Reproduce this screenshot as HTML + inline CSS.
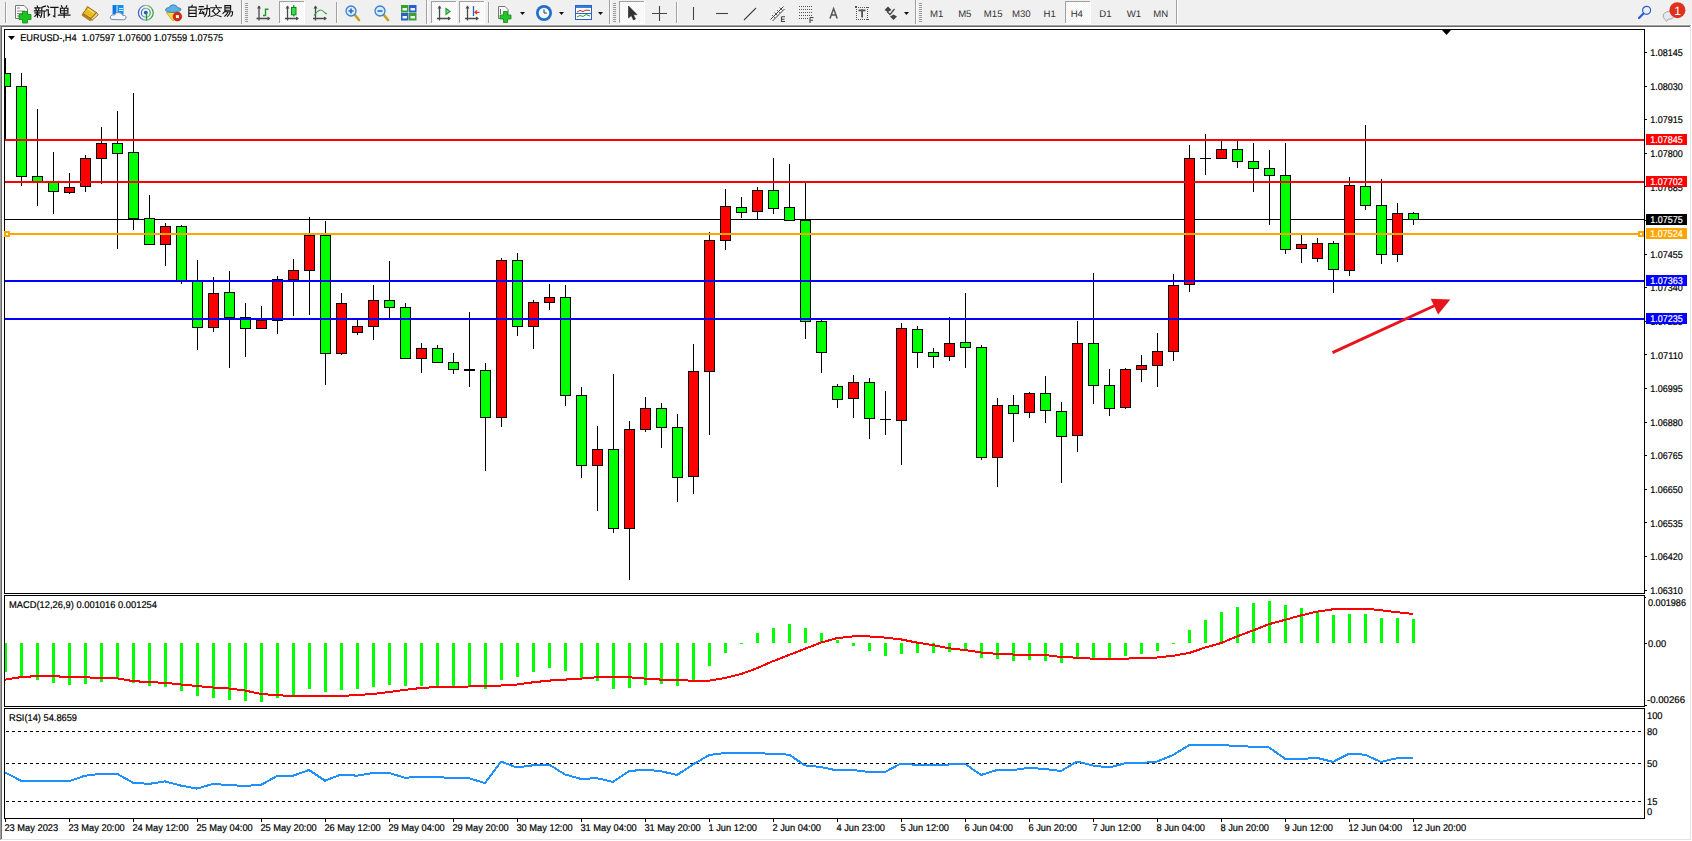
<!DOCTYPE html>
<html><head><meta charset="utf-8"><title>EURUSD H4</title>
<style>
html,body{margin:0;padding:0;background:#f0f0f0;width:1692px;height:841px;overflow:hidden}
svg{display:block;font-family:"Liberation Sans",sans-serif;text-rendering:geometricPrecision}
</style></head><body>
<svg width="1692" height="841" viewBox="0 0 1692 841">
<rect x="0" y="0" width="1692" height="25" fill="#f0f0f0"/>
<rect x="0" y="24" width="1692" height="1" fill="#f7f7f7"/>
<defs><pattern id="dith" width="2" height="2" patternUnits="userSpaceOnUse"><rect width="2" height="2" fill="#f4f4f4"/><rect width="1" height="1" fill="#ffffff"/><rect x="1" y="1" width="1" height="1" fill="#ffffff"/></pattern></defs>
<rect x="5" y="2" width="1" height="21" fill="#a0a0a0"/>
<rect x="6" y="2" width="1" height="21" fill="#fdfdfd"/>
<path d="M15.5 5.5 H24 L27.5 9 V18.5 H15.5 Z" stroke="#777" fill="#fbfbfb" stroke-width="1"/>
<path d="M17 8 H20 M17 11 H25 M17 13.5 H25 M17 16 H22" stroke="#888" fill="none" stroke-width="1"/>
<path d="M22.5 11.5 H27.5 V14.5 H31 V19.5 H27.5 V23 H22.5 V19.5 H19 V14.5 H22.5 Z" stroke="#0c8a12" fill="#19c51e" stroke-width="0.8"/>
<path transform="translate(34.2,5.6) scale(1.0)" d="M3 0.3 L3.4 1.5 M0.6 2.2 H6 M1.7 3.2 L2.2 4.5 M4.7 3.2 L4.2 4.5 M0.2 5.2 H6.4 M0.8 7.3 H5.8 M3.3 5.2 V11.6 M2.9 8.2 L0.6 10.8 M3.8 8.6 L5.4 10 M11.2 0.5 L7.6 1.8 M7.6 1.8 V7.5 Q7.4 10.3 6.4 11.7 M7.6 5.4 H11.8 M10 5.4 V11.8" stroke="#111" stroke-width="1.15" fill="none" stroke-linecap="square"/>
<path transform="translate(46.2,5.6) scale(1.0)" d="M1.2 0.4 L2.5 1.8 M0.3 4.2 H2.1 V10.2 L3.6 8.6 M4.6 1.7 H11.8 M8.6 1.7 V11.2 L7.2 10.4" stroke="#111" stroke-width="1.15" fill="none" stroke-linecap="square"/>
<path transform="translate(58.2,5.6) scale(1.0)" d="M3.2 0.2 L4 1.6 M8.6 0.2 L7.8 1.6 M2.3 2.6 H9.7 V7.6 H2.3 Z M2.3 5.1 H9.7 M6 2.6 V11.8 M0.2 9.5 H11.8" stroke="#111" stroke-width="1.15" fill="none" stroke-linecap="square"/>
<path transform="translate(186.7,5.2) scale(0.96)" d="M5.8 0 L5 1.8 M2.2 2 H9.8 V11.8 M2.2 2 V11.8 H9.8 M2.2 5.2 H9.8 M2.2 8.5 H9.8" stroke="#111" stroke-width="1.15" fill="none" stroke-linecap="square"/>
<path transform="translate(198.5,5.2) scale(0.96)" d="M0.8 1.5 H5 M0.2 4.2 H5.8 M3 4.2 L1 8.8 L5.6 8 M4.4 6.6 L5.8 9.6 M6.6 3.6 H11.6 V10.8 L10.2 11.6 M9 0 V4.5 Q8.8 9 6.5 11.7" stroke="#111" stroke-width="1.15" fill="none" stroke-linecap="square"/>
<path transform="translate(210.3,5.2) scale(0.96)" d="M5.8 0 L6.4 1.6 M0.4 2.6 H11.6 M4.2 4 L2 6.4 M7.8 4 L10.2 6.4 M3 6.6 Q6 11 11 11.8 M9.2 6.6 Q6 11 0.8 11.8" stroke="#111" stroke-width="1.15" fill="none" stroke-linecap="square"/>
<path transform="translate(222,5.2) scale(0.96)" d="M3 0.4 H9 V5.2 H3 Z M3 2.8 H9 M4.2 5.4 L1 8.6 M3.2 6.8 H11 Q11 11.2 9.4 11.4 M6.2 7 Q5 10 2.8 11.4 M8.6 7 Q7.6 10 5.6 11.6" stroke="#111" stroke-width="1.15" fill="none" stroke-linecap="square"/>
<path d="M91 18.5 L96.5 12.5 L98.2 14.8 L91.8 20.6 Z" stroke="#9a6410" fill="#e6dba6" stroke-width="0.9"/>
<path d="M82.6 14 L91 19.2 L90.2 20.8 L82.2 15.4 Z" stroke="#9a6410" fill="#c8901e" stroke-width="0.8"/>
<path d="M87.4 6.6 L96.4 12.6 L91 18.6 L82.8 13.4 Q85.5 11 87.4 6.6 Z" stroke="#9a6410" fill="#eabb22" stroke-width="1"/>
<path d="M87.8 8.8 L94.2 13" stroke="#f8e27a" fill="none" stroke-width="1.2"/>
<rect x="112.5" y="5" width="11" height="9.5" fill="#1590f0"/>
<rect x="113" y="5.5" width="3.5" height="8.5" fill="#0a78e0"/>
<rect x="116.5" y="5.5" width="1" height="8.5" fill="#d8f0ff"/>
<rect x="119" y="8" width="4" height="1" fill="#d8ecff"/>
<rect x="119" y="10" width="4" height="1" fill="#d8ecff"/>
<path d="M112 19.5 Q109.5 19.5 110.5 16.5 Q111.5 14 114.5 15 Q115.5 11.8 119 12.6 Q122 12.8 122.5 15.3 Q126.5 15 126 18 Q125.8 19.8 123.5 19.8 Z" stroke="#7b8aa8" fill="#f4f6fb" stroke-width="1"/>
<defs><linearGradient id="sg" x1="0" x2="1" y1="0" y2="0"><stop offset="0" stop-color="#2f62d0"/><stop offset="0.55" stop-color="#9cc4b0"/><stop offset="1" stop-color="#2e9a3a"/></linearGradient></defs>
<circle cx="145.8" cy="12.8" r="7.4" fill="none" stroke="url(#sg)" stroke-width="1.2"/>
<circle cx="145.8" cy="12.8" r="4.4" fill="none" stroke="url(#sg)" stroke-width="1.1"/>
<circle cx="145.8" cy="12.6" r="1.9" fill="#2452c0"/>
<path d="M146.5 13 V20.6" stroke="#22a02a" fill="none" stroke-width="1.4"/>
<path d="M166.2 12.5 L180 12.5 L174 20.5 L172.5 20.5 Z" stroke="#c89a18" fill="#f3d84a" stroke-width="0.8"/>
<path d="M165.6 10.6 Q165 8 169 7.6 Q170 4.6 173.5 4.8 Q176.8 5 177.6 7.6 Q181.5 8 181 10 Q178 12.6 173 12.4 Q167.5 12.4 165.6 10.6 Z" stroke="#2a7ab0" fill="#5cb0e6" stroke-width="0.8"/>
<circle cx="177.4" cy="16.6" r="4.3" fill="#d8280e" stroke="#b01800" stroke-width="0.6"/>
<rect x="175.9" y="15.1" width="3" height="3" fill="#ffffff"/>
<rect x="241" y="0" width="1" height="24" fill="#a0a0a0"/>
<rect x="242" y="0" width="1" height="24" fill="#ffffff"/>
<rect x="245" y="3" width="3" height="1" fill="#999999"/>
<rect x="245" y="5" width="3" height="1" fill="#999999"/>
<rect x="245" y="7" width="3" height="1" fill="#999999"/>
<rect x="245" y="9" width="3" height="1" fill="#999999"/>
<rect x="245" y="11" width="3" height="1" fill="#999999"/>
<rect x="245" y="13" width="3" height="1" fill="#999999"/>
<rect x="245" y="15" width="3" height="1" fill="#999999"/>
<rect x="245" y="17" width="3" height="1" fill="#999999"/>
<rect x="245" y="19" width="3" height="1" fill="#999999"/>
<rect x="245" y="21" width="3" height="1" fill="#999999"/>
<path d="M259.0 6 V20.5 M256.5 18.5 H269.5" stroke="#4a4a4a" fill="none" stroke-width="1.3"/>
<path d="M257.0 8.5 L259.0 5.5 L261.0 8.5 Z" stroke="none" fill="#4a4a4a" stroke-width="1"/>
<path d="M267.5 16.5 L270.5 18.5 L267.5 20.5 Z" stroke="none" fill="#4a4a4a" stroke-width="1"/>
<path d="M265.5 8.5 V16 M263 15.5 H265.5 M265.5 9.2 H268.5" stroke="#1a9a2a" fill="none" stroke-width="1.4"/>
<rect x="279" y="1" width="25" height="22" fill="#f7f7f7" fill-opacity="1"/>
<rect x="280" y="2" width="24" height="21" fill="url(#dith)"/>
<rect x="279" y="1" width="25" height="1" fill="#a0a0a0"/>
<rect x="279" y="1" width="1" height="22" fill="#a0a0a0"/>
<rect x="279" y="23" width="26" height="1" fill="#ffffff"/>
<rect x="304" y="1" width="1" height="23" fill="#ffffff"/>
<path d="M287.5 6 V20.5 M285 18.5 H298" stroke="#4a4a4a" fill="none" stroke-width="1.3"/>
<path d="M285.5 8.5 L287.5 5.5 L289.5 8.5 Z" stroke="none" fill="#4a4a4a" stroke-width="1"/>
<path d="M296 16.5 L299 18.5 L296 20.5 Z" stroke="none" fill="#4a4a4a" stroke-width="1"/>
<rect x="291.5" y="7.5" width="4.5" height="7.3" fill="#3ddc4a" stroke="#0a8a1a" stroke-width="1"/>
<path d="M293.8 5 V7.5 M293.8 14.8 V16.5" stroke="#0a8a1a" fill="none" stroke-width="1.2"/>
<path d="M315.5 6 V20.5 M313 18.5 H326" stroke="#4a4a4a" fill="none" stroke-width="1.3"/>
<path d="M313.5 8.5 L315.5 5.5 L317.5 8.5 Z" stroke="none" fill="#4a4a4a" stroke-width="1"/>
<path d="M324 16.5 L327 18.5 L324 20.5 Z" stroke="none" fill="#4a4a4a" stroke-width="1"/>
<path d="M314 15.5 Q317 11 320 10 Q322 9.5 324.5 12.5 Q326 13.6 327 14" stroke="#2fa33c" fill="none" stroke-width="1.1"/>
<rect x="336" y="2" width="1" height="21" fill="#a0a0a0"/>
<rect x="337" y="2" width="1" height="21" fill="#fdfdfd"/>
<path d="M354.5 14.5 L359 20" stroke="#c8a020" fill="none" stroke-width="2.6" stroke-linecap="round"/>
<circle cx="351" cy="11" r="5" fill="#d6ecfb" stroke="#3a7fd0" stroke-width="1.3"/>
<path d="M348.5 11 H353.5 M351 8.5 V13.5" stroke="#2a6cc8" fill="none" stroke-width="1.6"/>
<path d="M383.5 14.5 L388 20" stroke="#c8a020" fill="none" stroke-width="2.6" stroke-linecap="round"/>
<circle cx="380" cy="11" r="5" fill="#d6ecfb" stroke="#3a7fd0" stroke-width="1.3"/>
<path d="M377.5 11 H382.5" stroke="#2a6cc8" fill="none" stroke-width="1.6"/>
<rect x="401" y="5" width="7.5" height="7.5" fill="#3aa02a"/>
<rect x="409" y="5" width="7.5" height="7.5" fill="#2a5ec8"/>
<rect x="401" y="13" width="7.5" height="7.5" fill="#2a5ec8"/>
<rect x="409" y="13" width="7.5" height="7.5" fill="#3aa02a"/>
<rect x="402.5" y="8" width="4.5" height="2.5" fill="#e8f2ff"/>
<rect x="410.5" y="8" width="4.5" height="2.5" fill="#e8f2ff"/>
<rect x="402.5" y="16" width="4.5" height="2.5" fill="#e8f2ff"/>
<rect x="410.5" y="16" width="4.5" height="2.5" fill="#e8f2ff"/>
<rect x="426" y="0" width="1" height="24" fill="#a0a0a0"/>
<rect x="427" y="0" width="1" height="24" fill="#ffffff"/>
<rect x="431" y="1" width="25" height="22" fill="#f7f7f7" fill-opacity="1"/>
<rect x="432" y="2" width="24" height="21" fill="url(#dith)"/>
<rect x="431" y="1" width="25" height="1" fill="#a0a0a0"/>
<rect x="431" y="1" width="1" height="22" fill="#a0a0a0"/>
<rect x="431" y="23" width="26" height="1" fill="#ffffff"/>
<rect x="456" y="1" width="1" height="23" fill="#ffffff"/>
<path d="M439.5 6 V20.5 M437 18.5 H450" stroke="#4a4a4a" fill="none" stroke-width="1.3"/>
<path d="M437.5 8.5 L439.5 5.5 L441.5 8.5 Z" stroke="none" fill="#4a4a4a" stroke-width="1"/>
<path d="M448 16.5 L451 18.5 L448 20.5 Z" stroke="none" fill="#4a4a4a" stroke-width="1"/>
<path d="M446 8.5 L450 11.5 L446 14.5 Z" stroke="#1a9a2a" fill="#7ee07e" stroke-width="1.1"/>
<rect x="459" y="1" width="25" height="22" fill="#f7f7f7" fill-opacity="1"/>
<rect x="460" y="2" width="24" height="21" fill="url(#dith)"/>
<rect x="459" y="1" width="25" height="1" fill="#a0a0a0"/>
<rect x="459" y="1" width="1" height="22" fill="#a0a0a0"/>
<rect x="459" y="23" width="26" height="1" fill="#ffffff"/>
<rect x="484" y="1" width="1" height="23" fill="#ffffff"/>
<path d="M467.5 6 V20.5 M465 18.5 H478" stroke="#4a4a4a" fill="none" stroke-width="1.3"/>
<path d="M465.5 8.5 L467.5 5.5 L469.5 8.5 Z" stroke="none" fill="#4a4a4a" stroke-width="1"/>
<path d="M476 16.5 L479 18.5 L476 20.5 Z" stroke="none" fill="#4a4a4a" stroke-width="1"/>
<path d="M473.5 6 V16" stroke="#2a5ec8" fill="none" stroke-width="1.3"/>
<path d="M479.5 12.3 H475.5 M477 10.5 L475 12.3 L477 14" stroke="#d8401a" fill="none" stroke-width="1.3"/>
<rect x="488" y="2" width="1" height="21" fill="#a0a0a0"/>
<rect x="489" y="2" width="1" height="21" fill="#fdfdfd"/>
<path d="M498.5 6.5 H505 L508 9.5 V18.5 H498.5 Z" stroke="#777" fill="#f8f8f8" stroke-width="1"/>
<path d="M500.5 9 V14" stroke="#666" fill="none" stroke-width="1"/>
<path d="M503.5 11.5 H507.5 V15 H511 V19 H507.5 V22.5 H503.5 V19 H500 V15 H503.5 Z" stroke="#0c8a12" fill="#22c62a" stroke-width="0.8"/>
<path d="M520 12 H525 L522.5 15 Z" stroke="none" fill="#111" stroke-width="1"/>
<circle cx="544" cy="13" r="8" fill="#1f6fd0"/><circle cx="544" cy="13" r="5.3" fill="#f4f8fc"/>
<path d="M544 9.5 V13 H546.8" stroke="#333" fill="none" stroke-width="1"/>
<path d="M559 12 H564 L561.5 15 Z" stroke="none" fill="#111" stroke-width="1"/>
<rect x="575.5" y="5.5" width="16" height="14" fill="#ffffff" stroke="#2a5ec8" stroke-width="1"/>
<rect x="576" y="6" width="15" height="2" fill="#3a7fd8"/>
<path d="M577 12 L580 10.5 L583 11.5 L586 10 L590 10.5" stroke="#b03020" fill="none" stroke-width="1"/>
<path d="M577 17 L580 15.5 L583 16.5 L586 14.5 L590 16" stroke="#1f9a2f" fill="none" stroke-width="1"/>
<rect x="576" y="13" width="15" height="1" fill="#2a5ec8"/>
<path d="M598 12 H603 L600.5 15 Z" stroke="none" fill="#111" stroke-width="1"/>
<rect x="609" y="0" width="1" height="24" fill="#a0a0a0"/>
<rect x="610" y="0" width="1" height="24" fill="#ffffff"/>
<rect x="613" y="3" width="3" height="1" fill="#999999"/>
<rect x="613" y="5" width="3" height="1" fill="#999999"/>
<rect x="613" y="7" width="3" height="1" fill="#999999"/>
<rect x="613" y="9" width="3" height="1" fill="#999999"/>
<rect x="613" y="11" width="3" height="1" fill="#999999"/>
<rect x="613" y="13" width="3" height="1" fill="#999999"/>
<rect x="613" y="15" width="3" height="1" fill="#999999"/>
<rect x="613" y="17" width="3" height="1" fill="#999999"/>
<rect x="613" y="19" width="3" height="1" fill="#999999"/>
<rect x="613" y="21" width="3" height="1" fill="#999999"/>
<rect x="619" y="1" width="25" height="22" fill="#f7f7f7" fill-opacity="1"/>
<rect x="620" y="2" width="24" height="21" fill="url(#dith)"/>
<rect x="619" y="1" width="25" height="1" fill="#a0a0a0"/>
<rect x="619" y="1" width="1" height="22" fill="#a0a0a0"/>
<rect x="619" y="23" width="26" height="1" fill="#ffffff"/>
<rect x="644" y="1" width="1" height="23" fill="#ffffff"/>
<path d="M628.5 6 V18 L631.3 15.5 L633.5 20 L635.5 19 L633.3 14.8 L637 14.6 Z" stroke="#222" fill="#333" stroke-width="0.6"/>
<path d="M652 13.5 H667 M659.5 6 V21" stroke="#444" fill="none" stroke-width="1.1"/>
<rect x="676" y="2" width="1" height="21" fill="#a0a0a0"/>
<rect x="677" y="2" width="1" height="21" fill="#fdfdfd"/>
<path d="M693.5 7 V20" stroke="#444" fill="none" stroke-width="1.1"/>
<path d="M716 13.5 H728" stroke="#444" fill="none" stroke-width="1.1"/>
<path d="M744 20 L756 8" stroke="#444" fill="none" stroke-width="1.1"/>
<path d="M770.5 19.5 L783.5 6.5 M772.5 21 L784.5 9" stroke="#444" fill="none" stroke-width="1"/>
<path d="M772 15 L775 18 M774.5 12.5 L777.5 15.5 M777 10 L780 13 M779.5 7.5 L782.5 10.5" stroke="#555" fill="none" stroke-width="0.9"/>
<path d="M781.5 16.8 V22 M781.5 16.8 H785 M781.5 19.3 H784.5 M781.5 21.5 H785" stroke="#444" fill="none" stroke-width="1.1"/>
<rect x="799" y="6.0" width="1" height="1" fill="#555"/>
<rect x="801" y="6.0" width="1" height="1" fill="#555"/>
<rect x="803" y="6.0" width="1" height="1" fill="#555"/>
<rect x="805" y="6.0" width="1" height="1" fill="#555"/>
<rect x="807" y="6.0" width="1" height="1" fill="#555"/>
<rect x="809" y="6.0" width="1" height="1" fill="#555"/>
<rect x="811" y="6.0" width="1" height="1" fill="#555"/>
<rect x="799" y="9.0" width="1" height="1" fill="#555"/>
<rect x="801" y="9.0" width="1" height="1" fill="#555"/>
<rect x="803" y="9.0" width="1" height="1" fill="#555"/>
<rect x="805" y="9.0" width="1" height="1" fill="#555"/>
<rect x="807" y="9.0" width="1" height="1" fill="#555"/>
<rect x="809" y="9.0" width="1" height="1" fill="#555"/>
<rect x="811" y="9.0" width="1" height="1" fill="#555"/>
<rect x="799" y="12.0" width="1" height="1" fill="#555"/>
<rect x="801" y="12.0" width="1" height="1" fill="#555"/>
<rect x="803" y="12.0" width="1" height="1" fill="#555"/>
<rect x="805" y="12.0" width="1" height="1" fill="#555"/>
<rect x="807" y="12.0" width="1" height="1" fill="#555"/>
<rect x="809" y="12.0" width="1" height="1" fill="#555"/>
<rect x="811" y="12.0" width="1" height="1" fill="#555"/>
<rect x="799" y="15.0" width="1" height="1" fill="#555"/>
<rect x="801" y="15.0" width="1" height="1" fill="#555"/>
<rect x="803" y="15.0" width="1" height="1" fill="#555"/>
<rect x="805" y="15.0" width="1" height="1" fill="#555"/>
<rect x="807" y="15.0" width="1" height="1" fill="#555"/>
<rect x="809" y="15.0" width="1" height="1" fill="#555"/>
<rect x="811" y="15.0" width="1" height="1" fill="#555"/>
<rect x="799" y="18.0" width="1" height="1" fill="#555"/>
<rect x="801" y="18.0" width="1" height="1" fill="#555"/>
<rect x="803" y="18.0" width="1" height="1" fill="#555"/>
<rect x="805" y="18.0" width="1" height="1" fill="#555"/>
<rect x="807" y="18.0" width="1" height="1" fill="#555"/>
<path d="M810 17.5 V23 M810 17.5 H813.5 M810 20.2 H813" stroke="#444" fill="none" stroke-width="1.1"/>
<path d="M830 18.5 L833.6 8.6 L837.2 18.5 M831.3 15 H835.9" stroke="#555" fill="none" stroke-width="1.5"/>
<rect x="856" y="7" width="1" height="1" fill="#555"/>
<rect x="856" y="19" width="1" height="1" fill="#555"/>
<rect x="858" y="7" width="1" height="1" fill="#555"/>
<rect x="858" y="19" width="1" height="1" fill="#555"/>
<rect x="860" y="7" width="1" height="1" fill="#555"/>
<rect x="860" y="19" width="1" height="1" fill="#555"/>
<rect x="862" y="7" width="1" height="1" fill="#555"/>
<rect x="862" y="19" width="1" height="1" fill="#555"/>
<rect x="864" y="7" width="1" height="1" fill="#555"/>
<rect x="864" y="19" width="1" height="1" fill="#555"/>
<rect x="866" y="7" width="1" height="1" fill="#555"/>
<rect x="866" y="19" width="1" height="1" fill="#555"/>
<rect x="868" y="7" width="1" height="1" fill="#555"/>
<rect x="868" y="19" width="1" height="1" fill="#555"/>
<rect x="856" y="7" width="1" height="1" fill="#555"/>
<rect x="867" y="7" width="1" height="1" fill="#555"/>
<rect x="856" y="9" width="1" height="1" fill="#555"/>
<rect x="867" y="9" width="1" height="1" fill="#555"/>
<rect x="856" y="11" width="1" height="1" fill="#555"/>
<rect x="867" y="11" width="1" height="1" fill="#555"/>
<rect x="856" y="13" width="1" height="1" fill="#555"/>
<rect x="867" y="13" width="1" height="1" fill="#555"/>
<rect x="856" y="15" width="1" height="1" fill="#555"/>
<rect x="867" y="15" width="1" height="1" fill="#555"/>
<rect x="856" y="17" width="1" height="1" fill="#555"/>
<rect x="867" y="17" width="1" height="1" fill="#555"/>
<rect x="856" y="19" width="1" height="1" fill="#555"/>
<rect x="867" y="19" width="1" height="1" fill="#555"/>
<rect x="855" y="6" width="2" height="2" fill="#555"/>
<rect x="858.5" y="9.5" width="7" height="1.8" fill="#555"/>
<rect x="861.2" y="9.5" width="1.8" height="8" fill="#555"/>
<path d="M884.5 10 L888 6.5 L891.5 10 L888 12 Z M890 16.5 L893.5 14.5 L897 16.5 L893.5 20 Z" stroke="none" fill="#444" stroke-width="1"/>
<path d="M887 11.5 L890 14.5 L894.5 9" stroke="#444" fill="none" stroke-width="1.2"/>
<path d="M904 12 H909 L906.5 15 Z" stroke="none" fill="#111" stroke-width="1"/>
<rect x="915" y="0" width="1" height="24" fill="#a0a0a0"/>
<rect x="916" y="0" width="1" height="24" fill="#ffffff"/>
<rect x="919" y="3" width="3" height="1" fill="#999999"/>
<rect x="919" y="5" width="3" height="1" fill="#999999"/>
<rect x="919" y="7" width="3" height="1" fill="#999999"/>
<rect x="919" y="9" width="3" height="1" fill="#999999"/>
<rect x="919" y="11" width="3" height="1" fill="#999999"/>
<rect x="919" y="13" width="3" height="1" fill="#999999"/>
<rect x="919" y="15" width="3" height="1" fill="#999999"/>
<rect x="919" y="17" width="3" height="1" fill="#999999"/>
<rect x="919" y="19" width="3" height="1" fill="#999999"/>
<rect x="919" y="21" width="3" height="1" fill="#999999"/>
<rect x="1065" y="1" width="25" height="22" fill="#f7f7f7" fill-opacity="1"/>
<rect x="1066" y="2" width="24" height="21" fill="url(#dith)"/>
<rect x="1065" y="1" width="25" height="1" fill="#a0a0a0"/>
<rect x="1065" y="1" width="1" height="22" fill="#a0a0a0"/>
<rect x="1065" y="23" width="26" height="1" fill="#ffffff"/>
<rect x="1090" y="1" width="1" height="23" fill="#ffffff"/>
<text x="936.6" y="17" font-size="9.6" fill="#333" text-anchor="middle" font-family="Liberation Sans">M1</text>
<text x="964.8" y="17" font-size="9.6" fill="#333" text-anchor="middle" font-family="Liberation Sans">M5</text>
<text x="993.2" y="17" font-size="9.6" fill="#333" text-anchor="middle" font-family="Liberation Sans">M15</text>
<text x="1021.3" y="17" font-size="9.6" fill="#333" text-anchor="middle" font-family="Liberation Sans">M30</text>
<text x="1049.6" y="17" font-size="9.6" fill="#333" text-anchor="middle" font-family="Liberation Sans">H1</text>
<text x="1076.8" y="17" font-size="9.6" fill="#333" text-anchor="middle" font-family="Liberation Sans">H4</text>
<text x="1105.4" y="17" font-size="9.6" fill="#333" text-anchor="middle" font-family="Liberation Sans">D1</text>
<text x="1134" y="17" font-size="9.6" fill="#333" text-anchor="middle" font-family="Liberation Sans">W1</text>
<text x="1160.8" y="17" font-size="9.6" fill="#333" text-anchor="middle" font-family="Liberation Sans">MN</text>
<rect x="1176" y="0" width="1" height="24" fill="#a0a0a0"/>
<rect x="1177" y="0" width="1" height="24" fill="#ffffff"/>
<circle cx="1646.6" cy="10.3" r="4" fill="none" stroke="#2a5bd7" stroke-width="1.2"/>
<path d="M1643.5 13.5 L1639 18" stroke="#2a5bd7" fill="none" stroke-width="2.2" stroke-linecap="round"/>
<path d="M1665 19.5 Q1662 17 1663.5 14 Q1666 11 1670.5 11.5 Q1675 12.5 1674 16.5 Q1672.5 19.5 1668 19.3 L1666.5 21.5 Z" stroke="#a0a0a0" fill="#e6e8f0" stroke-width="0.9"/>
<circle cx="1677.4" cy="10.2" r="8" fill="#e0301e"/>
<text x="1677.6" y="14.6" font-size="12" fill="#fff" text-anchor="middle" font-family="Liberation Sans">1</text>
<rect x="0" y="25" width="1692" height="816" fill="#f0f0f0"/>
<rect x="0" y="25" width="1691" height="1" fill="#a0a0a0"/>
<rect x="0" y="25" width="1" height="815" fill="#a0a0a0"/>
<rect x="1" y="26" width="1689" height="1" fill="#696969"/>
<rect x="1" y="26" width="1" height="813" fill="#696969"/>
<rect x="1690" y="26" width="1" height="814" fill="#e3e3e3"/>
<rect x="1" y="839" width="1690" height="1" fill="#e3e3e3"/>
<rect x="1691" y="25" width="1" height="816" fill="#ffffff"/>
<rect x="0" y="840" width="1692" height="1" fill="#ffffff"/>
<rect x="2" y="27" width="1688" height="812" fill="#ffffff"/>
<g shape-rendering="crispEdges">
<rect x="4" y="29" width="1641" height="1" fill="#000"/>
<rect x="4" y="593" width="1641" height="1" fill="#000"/>
<rect x="4" y="29" width="1" height="565" fill="#000"/>
<rect x="1644" y="29" width="1" height="565" fill="#000"/>
<rect x="4" y="595" width="1641" height="1" fill="#000"/>
<rect x="4" y="706" width="1641" height="1" fill="#000"/>
<rect x="4" y="595" width="1" height="112" fill="#000"/>
<rect x="1644" y="595" width="1" height="112" fill="#000"/>
<rect x="4" y="708" width="1641" height="1" fill="#000"/>
<rect x="4" y="818" width="1641" height="1" fill="#000"/>
<rect x="4" y="708" width="1" height="111" fill="#000"/>
<rect x="1644" y="708" width="1" height="111" fill="#000"/>
</g>
<clipPath id="mc"><rect x="5" y="30" width="1639" height="563"/></clipPath>
<g shape-rendering="crispEdges">
<rect x="5" y="219" width="1639" height="1" fill="#000000"/>
</g>
<g clip-path="url(#mc)" shape-rendering="crispEdges">
<rect x="5" y="58" width="1" height="83" fill="#000"/>
<rect x="0" y="73" width="11" height="14" fill="#000"/>
<rect x="1" y="74" width="9" height="12" fill="#00ff00"/>
<rect x="21" y="73" width="1" height="113" fill="#000"/>
<rect x="16" y="86" width="11" height="91" fill="#000"/>
<rect x="17" y="87" width="9" height="89" fill="#00ff00"/>
<rect x="37" y="109" width="1" height="97" fill="#000"/>
<rect x="32" y="176" width="11" height="6" fill="#000"/>
<rect x="33" y="177" width="9" height="4" fill="#00ff00"/>
<rect x="53" y="152" width="1" height="62" fill="#000"/>
<rect x="48" y="182" width="11" height="10" fill="#000"/>
<rect x="49" y="183" width="9" height="8" fill="#00ff00"/>
<rect x="69" y="173" width="1" height="21" fill="#000"/>
<rect x="64" y="187" width="11" height="6" fill="#000"/>
<rect x="65" y="188" width="9" height="4" fill="#ff0000"/>
<rect x="85" y="155" width="1" height="37" fill="#000"/>
<rect x="80" y="158" width="11" height="29" fill="#000"/>
<rect x="81" y="159" width="9" height="27" fill="#ff0000"/>
<rect x="101" y="127" width="1" height="57" fill="#000"/>
<rect x="96" y="143" width="11" height="16" fill="#000"/>
<rect x="97" y="144" width="9" height="14" fill="#ff0000"/>
<rect x="117" y="111" width="1" height="138" fill="#000"/>
<rect x="112" y="143" width="11" height="11" fill="#000"/>
<rect x="113" y="144" width="9" height="9" fill="#00ff00"/>
<rect x="133" y="93" width="1" height="137" fill="#000"/>
<rect x="128" y="152" width="11" height="67" fill="#000"/>
<rect x="129" y="153" width="9" height="65" fill="#00ff00"/>
<rect x="149" y="195" width="1" height="50" fill="#000"/>
<rect x="144" y="218" width="11" height="27" fill="#000"/>
<rect x="145" y="219" width="9" height="25" fill="#00ff00"/>
<rect x="165" y="223" width="1" height="43" fill="#000"/>
<rect x="160" y="226" width="11" height="19" fill="#000"/>
<rect x="161" y="227" width="9" height="17" fill="#ff0000"/>
<rect x="181" y="225" width="1" height="59" fill="#000"/>
<rect x="176" y="226" width="11" height="55" fill="#000"/>
<rect x="177" y="227" width="9" height="53" fill="#00ff00"/>
<rect x="197" y="260" width="1" height="90" fill="#000"/>
<rect x="192" y="281" width="11" height="47" fill="#000"/>
<rect x="193" y="282" width="9" height="45" fill="#00ff00"/>
<rect x="213" y="277" width="1" height="55" fill="#000"/>
<rect x="208" y="293" width="11" height="35" fill="#000"/>
<rect x="209" y="294" width="9" height="33" fill="#ff0000"/>
<rect x="229" y="271" width="1" height="97" fill="#000"/>
<rect x="224" y="292" width="11" height="26" fill="#000"/>
<rect x="225" y="293" width="9" height="24" fill="#00ff00"/>
<rect x="245" y="303" width="1" height="54" fill="#000"/>
<rect x="240" y="317" width="11" height="12" fill="#000"/>
<rect x="241" y="318" width="9" height="10" fill="#00ff00"/>
<rect x="261" y="306" width="1" height="23" fill="#000"/>
<rect x="256" y="320" width="11" height="9" fill="#000"/>
<rect x="257" y="321" width="9" height="7" fill="#ff0000"/>
<rect x="277" y="276" width="1" height="58" fill="#000"/>
<rect x="272" y="279" width="11" height="42" fill="#000"/>
<rect x="273" y="280" width="9" height="40" fill="#ff0000"/>
<rect x="293" y="259" width="1" height="57" fill="#000"/>
<rect x="288" y="270" width="11" height="10" fill="#000"/>
<rect x="289" y="271" width="9" height="8" fill="#ff0000"/>
<rect x="309" y="217" width="1" height="98" fill="#000"/>
<rect x="304" y="235" width="11" height="36" fill="#000"/>
<rect x="305" y="236" width="9" height="34" fill="#ff0000"/>
<rect x="325" y="221" width="1" height="164" fill="#000"/>
<rect x="320" y="235" width="11" height="119" fill="#000"/>
<rect x="321" y="236" width="9" height="117" fill="#00ff00"/>
<rect x="341" y="293" width="1" height="62" fill="#000"/>
<rect x="336" y="303" width="11" height="51" fill="#000"/>
<rect x="337" y="304" width="9" height="49" fill="#ff0000"/>
<rect x="357" y="320" width="1" height="15" fill="#000"/>
<rect x="352" y="326" width="11" height="7" fill="#000"/>
<rect x="353" y="327" width="9" height="5" fill="#ff0000"/>
<rect x="373" y="285" width="1" height="55" fill="#000"/>
<rect x="368" y="300" width="11" height="27" fill="#000"/>
<rect x="369" y="301" width="9" height="25" fill="#ff0000"/>
<rect x="389" y="261" width="1" height="57" fill="#000"/>
<rect x="384" y="300" width="11" height="8" fill="#000"/>
<rect x="385" y="301" width="9" height="6" fill="#00ff00"/>
<rect x="405" y="303" width="1" height="56" fill="#000"/>
<rect x="400" y="307" width="11" height="52" fill="#000"/>
<rect x="401" y="308" width="9" height="50" fill="#00ff00"/>
<rect x="421" y="343" width="1" height="30" fill="#000"/>
<rect x="416" y="348" width="11" height="11" fill="#000"/>
<rect x="417" y="349" width="9" height="9" fill="#ff0000"/>
<rect x="437" y="345" width="1" height="18" fill="#000"/>
<rect x="432" y="348" width="11" height="15" fill="#000"/>
<rect x="433" y="349" width="9" height="13" fill="#00ff00"/>
<rect x="453" y="353" width="1" height="21" fill="#000"/>
<rect x="448" y="362" width="11" height="8" fill="#000"/>
<rect x="449" y="363" width="9" height="6" fill="#00ff00"/>
<rect x="469" y="312" width="1" height="75" fill="#000"/>
<rect x="464" y="369" width="11" height="2" fill="#000"/>
<rect x="485" y="363" width="1" height="108" fill="#000"/>
<rect x="480" y="370" width="11" height="48" fill="#000"/>
<rect x="481" y="371" width="9" height="46" fill="#00ff00"/>
<rect x="501" y="258" width="1" height="169" fill="#000"/>
<rect x="496" y="260" width="11" height="158" fill="#000"/>
<rect x="497" y="261" width="9" height="156" fill="#ff0000"/>
<rect x="517" y="253" width="1" height="83" fill="#000"/>
<rect x="512" y="260" width="11" height="67" fill="#000"/>
<rect x="513" y="261" width="9" height="65" fill="#00ff00"/>
<rect x="533" y="300" width="1" height="49" fill="#000"/>
<rect x="528" y="302" width="11" height="25" fill="#000"/>
<rect x="529" y="303" width="9" height="23" fill="#ff0000"/>
<rect x="549" y="284" width="1" height="26" fill="#000"/>
<rect x="544" y="297" width="11" height="6" fill="#000"/>
<rect x="545" y="298" width="9" height="4" fill="#ff0000"/>
<rect x="565" y="285" width="1" height="121" fill="#000"/>
<rect x="560" y="297" width="11" height="99" fill="#000"/>
<rect x="561" y="298" width="9" height="97" fill="#00ff00"/>
<rect x="581" y="387" width="1" height="91" fill="#000"/>
<rect x="576" y="395" width="11" height="71" fill="#000"/>
<rect x="577" y="396" width="9" height="69" fill="#00ff00"/>
<rect x="597" y="426" width="1" height="85" fill="#000"/>
<rect x="592" y="449" width="11" height="17" fill="#000"/>
<rect x="593" y="450" width="9" height="15" fill="#ff0000"/>
<rect x="613" y="374" width="1" height="159" fill="#000"/>
<rect x="608" y="449" width="11" height="80" fill="#000"/>
<rect x="609" y="450" width="9" height="78" fill="#00ff00"/>
<rect x="629" y="421" width="1" height="159" fill="#000"/>
<rect x="624" y="429" width="11" height="100" fill="#000"/>
<rect x="625" y="430" width="9" height="98" fill="#ff0000"/>
<rect x="645" y="397" width="1" height="35" fill="#000"/>
<rect x="640" y="408" width="11" height="22" fill="#000"/>
<rect x="641" y="409" width="9" height="20" fill="#ff0000"/>
<rect x="661" y="403" width="1" height="45" fill="#000"/>
<rect x="656" y="408" width="11" height="20" fill="#000"/>
<rect x="657" y="409" width="9" height="18" fill="#00ff00"/>
<rect x="677" y="414" width="1" height="88" fill="#000"/>
<rect x="672" y="427" width="11" height="51" fill="#000"/>
<rect x="673" y="428" width="9" height="49" fill="#00ff00"/>
<rect x="693" y="344" width="1" height="150" fill="#000"/>
<rect x="688" y="371" width="11" height="106" fill="#000"/>
<rect x="689" y="372" width="9" height="104" fill="#ff0000"/>
<rect x="709" y="232" width="1" height="203" fill="#000"/>
<rect x="704" y="240" width="11" height="132" fill="#000"/>
<rect x="705" y="241" width="9" height="130" fill="#ff0000"/>
<rect x="725" y="189" width="1" height="61" fill="#000"/>
<rect x="720" y="206" width="11" height="35" fill="#000"/>
<rect x="721" y="207" width="9" height="33" fill="#ff0000"/>
<rect x="741" y="197" width="1" height="21" fill="#000"/>
<rect x="736" y="207" width="11" height="6" fill="#000"/>
<rect x="737" y="208" width="9" height="4" fill="#00ff00"/>
<rect x="757" y="187" width="1" height="33" fill="#000"/>
<rect x="752" y="190" width="11" height="22" fill="#000"/>
<rect x="753" y="191" width="9" height="20" fill="#ff0000"/>
<rect x="773" y="158" width="1" height="56" fill="#000"/>
<rect x="768" y="190" width="11" height="19" fill="#000"/>
<rect x="769" y="191" width="9" height="17" fill="#00ff00"/>
<rect x="789" y="164" width="1" height="57" fill="#000"/>
<rect x="784" y="207" width="11" height="14" fill="#000"/>
<rect x="785" y="208" width="9" height="12" fill="#00ff00"/>
<rect x="805" y="183" width="1" height="156" fill="#000"/>
<rect x="800" y="220" width="11" height="102" fill="#000"/>
<rect x="801" y="221" width="9" height="100" fill="#00ff00"/>
<rect x="821" y="320" width="1" height="53" fill="#000"/>
<rect x="816" y="321" width="11" height="32" fill="#000"/>
<rect x="817" y="322" width="9" height="30" fill="#00ff00"/>
<rect x="837" y="384" width="1" height="24" fill="#000"/>
<rect x="832" y="386" width="11" height="14" fill="#000"/>
<rect x="833" y="387" width="9" height="12" fill="#00ff00"/>
<rect x="853" y="375" width="1" height="43" fill="#000"/>
<rect x="848" y="382" width="11" height="17" fill="#000"/>
<rect x="849" y="383" width="9" height="15" fill="#ff0000"/>
<rect x="869" y="378" width="1" height="61" fill="#000"/>
<rect x="864" y="382" width="11" height="37" fill="#000"/>
<rect x="865" y="383" width="9" height="35" fill="#00ff00"/>
<rect x="885" y="391" width="1" height="44" fill="#000"/>
<rect x="880" y="419" width="11" height="1" fill="#000"/>
<rect x="901" y="323" width="1" height="142" fill="#000"/>
<rect x="896" y="328" width="11" height="93" fill="#000"/>
<rect x="897" y="329" width="9" height="91" fill="#ff0000"/>
<rect x="917" y="326" width="1" height="42" fill="#000"/>
<rect x="912" y="329" width="11" height="24" fill="#000"/>
<rect x="913" y="330" width="9" height="22" fill="#00ff00"/>
<rect x="933" y="348" width="1" height="20" fill="#000"/>
<rect x="928" y="352" width="11" height="5" fill="#000"/>
<rect x="929" y="353" width="9" height="3" fill="#00ff00"/>
<rect x="949" y="317" width="1" height="44" fill="#000"/>
<rect x="944" y="343" width="11" height="14" fill="#000"/>
<rect x="945" y="344" width="9" height="12" fill="#ff0000"/>
<rect x="965" y="293" width="1" height="75" fill="#000"/>
<rect x="960" y="342" width="11" height="6" fill="#000"/>
<rect x="961" y="343" width="9" height="4" fill="#00ff00"/>
<rect x="981" y="345" width="1" height="115" fill="#000"/>
<rect x="976" y="347" width="11" height="111" fill="#000"/>
<rect x="977" y="348" width="9" height="109" fill="#00ff00"/>
<rect x="997" y="398" width="1" height="89" fill="#000"/>
<rect x="992" y="405" width="11" height="53" fill="#000"/>
<rect x="993" y="406" width="9" height="51" fill="#ff0000"/>
<rect x="1013" y="395" width="1" height="47" fill="#000"/>
<rect x="1008" y="405" width="11" height="9" fill="#000"/>
<rect x="1009" y="406" width="9" height="7" fill="#00ff00"/>
<rect x="1029" y="392" width="1" height="26" fill="#000"/>
<rect x="1024" y="393" width="11" height="20" fill="#000"/>
<rect x="1025" y="394" width="9" height="18" fill="#ff0000"/>
<rect x="1045" y="376" width="1" height="47" fill="#000"/>
<rect x="1040" y="393" width="11" height="18" fill="#000"/>
<rect x="1041" y="394" width="9" height="16" fill="#00ff00"/>
<rect x="1061" y="402" width="1" height="81" fill="#000"/>
<rect x="1056" y="411" width="11" height="26" fill="#000"/>
<rect x="1057" y="412" width="9" height="24" fill="#00ff00"/>
<rect x="1077" y="321" width="1" height="131" fill="#000"/>
<rect x="1072" y="343" width="11" height="93" fill="#000"/>
<rect x="1073" y="344" width="9" height="91" fill="#ff0000"/>
<rect x="1093" y="273" width="1" height="131" fill="#000"/>
<rect x="1088" y="343" width="11" height="43" fill="#000"/>
<rect x="1089" y="344" width="9" height="41" fill="#00ff00"/>
<rect x="1109" y="369" width="1" height="47" fill="#000"/>
<rect x="1104" y="385" width="11" height="24" fill="#000"/>
<rect x="1105" y="386" width="9" height="22" fill="#00ff00"/>
<rect x="1125" y="368" width="1" height="41" fill="#000"/>
<rect x="1120" y="369" width="11" height="39" fill="#000"/>
<rect x="1121" y="370" width="9" height="37" fill="#ff0000"/>
<rect x="1141" y="355" width="1" height="27" fill="#000"/>
<rect x="1136" y="365" width="11" height="5" fill="#000"/>
<rect x="1137" y="366" width="9" height="3" fill="#ff0000"/>
<rect x="1157" y="333" width="1" height="54" fill="#000"/>
<rect x="1152" y="351" width="11" height="15" fill="#000"/>
<rect x="1153" y="352" width="9" height="13" fill="#ff0000"/>
<rect x="1173" y="274" width="1" height="87" fill="#000"/>
<rect x="1168" y="285" width="11" height="67" fill="#000"/>
<rect x="1169" y="286" width="9" height="65" fill="#ff0000"/>
<rect x="1189" y="145" width="1" height="147" fill="#000"/>
<rect x="1184" y="158" width="11" height="127" fill="#000"/>
<rect x="1185" y="159" width="9" height="125" fill="#ff0000"/>
<rect x="1205" y="134" width="1" height="41" fill="#000"/>
<rect x="1200" y="158" width="11" height="1" fill="#000"/>
<rect x="1221" y="141" width="1" height="18" fill="#000"/>
<rect x="1216" y="149" width="11" height="10" fill="#000"/>
<rect x="1217" y="150" width="9" height="8" fill="#ff0000"/>
<rect x="1237" y="141" width="1" height="27" fill="#000"/>
<rect x="1232" y="149" width="11" height="13" fill="#000"/>
<rect x="1233" y="150" width="9" height="11" fill="#00ff00"/>
<rect x="1253" y="143" width="1" height="49" fill="#000"/>
<rect x="1248" y="161" width="11" height="8" fill="#000"/>
<rect x="1249" y="162" width="9" height="6" fill="#00ff00"/>
<rect x="1269" y="150" width="1" height="75" fill="#000"/>
<rect x="1264" y="168" width="11" height="8" fill="#000"/>
<rect x="1265" y="169" width="9" height="6" fill="#00ff00"/>
<rect x="1285" y="143" width="1" height="111" fill="#000"/>
<rect x="1280" y="175" width="11" height="75" fill="#000"/>
<rect x="1281" y="176" width="9" height="73" fill="#00ff00"/>
<rect x="1301" y="235" width="1" height="28" fill="#000"/>
<rect x="1296" y="244" width="11" height="5" fill="#000"/>
<rect x="1297" y="245" width="9" height="3" fill="#ff0000"/>
<rect x="1317" y="238" width="1" height="24" fill="#000"/>
<rect x="1312" y="243" width="11" height="16" fill="#000"/>
<rect x="1313" y="244" width="9" height="14" fill="#ff0000"/>
<rect x="1333" y="241" width="1" height="52" fill="#000"/>
<rect x="1328" y="243" width="11" height="27" fill="#000"/>
<rect x="1329" y="244" width="9" height="25" fill="#00ff00"/>
<rect x="1349" y="177" width="1" height="99" fill="#000"/>
<rect x="1344" y="185" width="11" height="86" fill="#000"/>
<rect x="1345" y="186" width="9" height="84" fill="#ff0000"/>
<rect x="1365" y="125" width="1" height="85" fill="#000"/>
<rect x="1360" y="186" width="11" height="20" fill="#000"/>
<rect x="1361" y="187" width="9" height="18" fill="#00ff00"/>
<rect x="1381" y="179" width="1" height="85" fill="#000"/>
<rect x="1376" y="205" width="11" height="50" fill="#000"/>
<rect x="1377" y="206" width="9" height="48" fill="#00ff00"/>
<rect x="1397" y="203" width="1" height="59" fill="#000"/>
<rect x="1392" y="213" width="11" height="42" fill="#000"/>
<rect x="1393" y="214" width="9" height="40" fill="#ff0000"/>
<rect x="1413" y="212" width="1" height="13" fill="#000"/>
<rect x="1408" y="213" width="11" height="7" fill="#000"/>
<rect x="1409" y="214" width="9" height="5" fill="#00ff00"/>
</g>
<g shape-rendering="crispEdges">
<rect x="5" y="139" width="1639" height="2" fill="#ff0000"/>
<rect x="5" y="181" width="1639" height="2" fill="#ff0000"/>
<rect x="5" y="233" width="1639" height="2" fill="#ffa500"/>
<rect x="5" y="280" width="1639" height="2" fill="#0000ff"/>
<rect x="5" y="318" width="1639" height="2" fill="#0000ff"/>
</g>
<rect x="4" y="231" width="6" height="6" fill="#ffa500"/>
<rect x="6" y="233" width="2" height="2" fill="#ffffff"/>
<rect x="1638" y="231" width="6" height="6" fill="#ffa500"/>
<rect x="1640" y="233" width="2" height="2" fill="#ffffff"/>
<path d="M1441.5 29.5 L1451.5 29.5 L1446.5 35 Z" fill="#000"/>
<line x1="1332.5" y1="352.6" x2="1436" y2="305" stroke="#e8141c" stroke-width="2.9"/>
<path d="M1430.7 298.7 L1450.3 299.6 L1438.1 314.6 Z" fill="#e8141c"/>
<path d="M8 36 L15 36 L11.5 40 Z" fill="#000"/>
<text x="20.2" y="41" font-size="9.8" fill="#000" stroke="#000" stroke-width="0.2" textLength="203" lengthAdjust="spacingAndGlyphs">EURUSD-,H4&#160; 1.07597 1.07600 1.07559 1.07575</text>
<rect x="1645" y="52" width="2" height="1" fill="#000"/>
<text x="1650.3" y="56.2" font-size="9.8" fill="#000" stroke="#000" stroke-width="0.2" textLength="32.6" lengthAdjust="spacingAndGlyphs">1.08145</text>
<rect x="1645" y="86" width="2" height="1" fill="#000"/>
<text x="1650.3" y="89.8" font-size="9.8" fill="#000" stroke="#000" stroke-width="0.2" textLength="32.6" lengthAdjust="spacingAndGlyphs">1.08030</text>
<rect x="1645" y="119" width="2" height="1" fill="#000"/>
<text x="1650.3" y="123.4" font-size="9.8" fill="#000" stroke="#000" stroke-width="0.2" textLength="32.6" lengthAdjust="spacingAndGlyphs">1.07915</text>
<rect x="1645" y="153" width="2" height="1" fill="#000"/>
<text x="1650.3" y="157.0" font-size="9.8" fill="#000" stroke="#000" stroke-width="0.2" textLength="32.6" lengthAdjust="spacingAndGlyphs">1.07800</text>
<rect x="1645" y="186" width="2" height="1" fill="#000"/>
<text x="1650.3" y="190.6" font-size="9.8" fill="#000" stroke="#000" stroke-width="0.2" textLength="32.6" lengthAdjust="spacingAndGlyphs">1.07685</text>
<rect x="1645" y="220" width="2" height="1" fill="#000"/>
<text x="1650.3" y="224.2" font-size="9.8" fill="#000" stroke="#000" stroke-width="0.2" textLength="32.6" lengthAdjust="spacingAndGlyphs">1.07570</text>
<rect x="1645" y="254" width="2" height="1" fill="#000"/>
<text x="1650.3" y="257.8" font-size="9.8" fill="#000" stroke="#000" stroke-width="0.2" textLength="32.6" lengthAdjust="spacingAndGlyphs">1.07455</text>
<rect x="1645" y="287" width="2" height="1" fill="#000"/>
<text x="1650.3" y="291.4" font-size="9.8" fill="#000" stroke="#000" stroke-width="0.2" textLength="32.6" lengthAdjust="spacingAndGlyphs">1.07340</text>
<rect x="1645" y="321" width="2" height="1" fill="#000"/>
<text x="1650.3" y="325.0" font-size="9.8" fill="#000" stroke="#000" stroke-width="0.2" textLength="32.6" lengthAdjust="spacingAndGlyphs">1.07225</text>
<rect x="1645" y="354" width="2" height="1" fill="#000"/>
<text x="1650.3" y="358.6" font-size="9.8" fill="#000" stroke="#000" stroke-width="0.2" textLength="32.6" lengthAdjust="spacingAndGlyphs">1.07110</text>
<rect x="1645" y="388" width="2" height="1" fill="#000"/>
<text x="1650.3" y="392.2" font-size="9.8" fill="#000" stroke="#000" stroke-width="0.2" textLength="32.6" lengthAdjust="spacingAndGlyphs">1.06995</text>
<rect x="1645" y="422" width="2" height="1" fill="#000"/>
<text x="1650.3" y="425.8" font-size="9.8" fill="#000" stroke="#000" stroke-width="0.2" textLength="32.6" lengthAdjust="spacingAndGlyphs">1.06880</text>
<rect x="1645" y="455" width="2" height="1" fill="#000"/>
<text x="1650.3" y="459.4" font-size="9.8" fill="#000" stroke="#000" stroke-width="0.2" textLength="32.6" lengthAdjust="spacingAndGlyphs">1.06765</text>
<rect x="1645" y="489" width="2" height="1" fill="#000"/>
<text x="1650.3" y="493.0" font-size="9.8" fill="#000" stroke="#000" stroke-width="0.2" textLength="32.6" lengthAdjust="spacingAndGlyphs">1.06650</text>
<rect x="1645" y="522" width="2" height="1" fill="#000"/>
<text x="1650.3" y="526.6" font-size="9.8" fill="#000" stroke="#000" stroke-width="0.2" textLength="32.6" lengthAdjust="spacingAndGlyphs">1.06535</text>
<rect x="1645" y="556" width="2" height="1" fill="#000"/>
<text x="1650.3" y="560.2" font-size="9.8" fill="#000" stroke="#000" stroke-width="0.2" textLength="32.6" lengthAdjust="spacingAndGlyphs">1.06420</text>
<rect x="1645" y="590" width="2" height="1" fill="#000"/>
<text x="1650.3" y="593.8" font-size="9.8" fill="#000" stroke="#000" stroke-width="0.2" textLength="32.6" lengthAdjust="spacingAndGlyphs">1.06310</text>
<rect x="1646" y="134" width="41" height="11" fill="#ff0000"/>
<text x="1650.3" y="143" font-size="9.8" fill="#fff" stroke="#fff" stroke-width="0.2" textLength="32.6" lengthAdjust="spacingAndGlyphs">1.07845</text>
<rect x="1646" y="176" width="41" height="11" fill="#ff0000"/>
<text x="1650.3" y="185" font-size="9.8" fill="#fff" stroke="#fff" stroke-width="0.2" textLength="32.6" lengthAdjust="spacingAndGlyphs">1.07702</text>
<rect x="1646" y="214" width="41" height="11" fill="#000000"/>
<text x="1650.3" y="223" font-size="9.8" fill="#fff" stroke="#fff" stroke-width="0.2" textLength="32.6" lengthAdjust="spacingAndGlyphs">1.07575</text>
<rect x="1646" y="228" width="41" height="11" fill="#ffa500"/>
<text x="1650.3" y="237" font-size="9.8" fill="#fff" stroke="#fff" stroke-width="0.2" textLength="32.6" lengthAdjust="spacingAndGlyphs">1.07524</text>
<rect x="1646" y="275" width="41" height="11" fill="#0000ff"/>
<text x="1650.3" y="284" font-size="9.8" fill="#fff" stroke="#fff" stroke-width="0.2" textLength="32.6" lengthAdjust="spacingAndGlyphs">1.07363</text>
<rect x="1646" y="313" width="41" height="11" fill="#0000ff"/>
<text x="1650.3" y="322" font-size="9.8" fill="#fff" stroke="#fff" stroke-width="0.2" textLength="32.6" lengthAdjust="spacingAndGlyphs">1.07235</text>
<clipPath id="mac"><rect x="5" y="596" width="1639" height="110"/></clipPath>
<g clip-path="url(#mac)">
<g shape-rendering="crispEdges">
<rect x="4" y="643" width="3" height="29" fill="#00ff00"/>
<rect x="20" y="643" width="3" height="33" fill="#00ff00"/>
<rect x="36" y="643" width="3" height="37" fill="#00ff00"/>
<rect x="52" y="643" width="3" height="40" fill="#00ff00"/>
<rect x="68" y="643" width="3" height="42" fill="#00ff00"/>
<rect x="84" y="643" width="3" height="41" fill="#00ff00"/>
<rect x="100" y="643" width="3" height="39" fill="#00ff00"/>
<rect x="116" y="643" width="3" height="36" fill="#00ff00"/>
<rect x="132" y="643" width="3" height="40" fill="#00ff00"/>
<rect x="148" y="643" width="3" height="43" fill="#00ff00"/>
<rect x="164" y="643" width="3" height="44" fill="#00ff00"/>
<rect x="180" y="643" width="3" height="48" fill="#00ff00"/>
<rect x="196" y="643" width="3" height="53" fill="#00ff00"/>
<rect x="212" y="643" width="3" height="55" fill="#00ff00"/>
<rect x="228" y="643" width="3" height="57" fill="#00ff00"/>
<rect x="244" y="643" width="3" height="58" fill="#00ff00"/>
<rect x="260" y="643" width="3" height="59" fill="#00ff00"/>
<rect x="276" y="643" width="3" height="55" fill="#00ff00"/>
<rect x="292" y="643" width="3" height="52" fill="#00ff00"/>
<rect x="308" y="643" width="3" height="46" fill="#00ff00"/>
<rect x="324" y="643" width="3" height="49" fill="#00ff00"/>
<rect x="340" y="643" width="3" height="47" fill="#00ff00"/>
<rect x="356" y="643" width="3" height="46" fill="#00ff00"/>
<rect x="372" y="643" width="3" height="44" fill="#00ff00"/>
<rect x="388" y="643" width="3" height="42" fill="#00ff00"/>
<rect x="404" y="643" width="3" height="43" fill="#00ff00"/>
<rect x="420" y="643" width="3" height="43" fill="#00ff00"/>
<rect x="436" y="643" width="3" height="43" fill="#00ff00"/>
<rect x="452" y="643" width="3" height="43" fill="#00ff00"/>
<rect x="468" y="643" width="3" height="43" fill="#00ff00"/>
<rect x="484" y="643" width="3" height="46" fill="#00ff00"/>
<rect x="500" y="643" width="3" height="37" fill="#00ff00"/>
<rect x="516" y="643" width="3" height="34" fill="#00ff00"/>
<rect x="532" y="643" width="3" height="29" fill="#00ff00"/>
<rect x="548" y="643" width="3" height="25" fill="#00ff00"/>
<rect x="564" y="643" width="3" height="28" fill="#00ff00"/>
<rect x="580" y="643" width="3" height="35" fill="#00ff00"/>
<rect x="596" y="643" width="3" height="38" fill="#00ff00"/>
<rect x="612" y="643" width="3" height="46" fill="#00ff00"/>
<rect x="628" y="643" width="3" height="45" fill="#00ff00"/>
<rect x="644" y="643" width="3" height="42" fill="#00ff00"/>
<rect x="660" y="643" width="3" height="41" fill="#00ff00"/>
<rect x="676" y="643" width="3" height="43" fill="#00ff00"/>
<rect x="692" y="643" width="3" height="37" fill="#00ff00"/>
<rect x="708" y="643" width="3" height="23" fill="#00ff00"/>
<rect x="724" y="643" width="3" height="10" fill="#00ff00"/>
<rect x="740" y="643" width="3" height="1" fill="#00ff00"/>
<rect x="756" y="633" width="3" height="10" fill="#00ff00"/>
<rect x="772" y="628" width="3" height="15" fill="#00ff00"/>
<rect x="788" y="624" width="3" height="19" fill="#00ff00"/>
<rect x="804" y="628" width="3" height="15" fill="#00ff00"/>
<rect x="820" y="633" width="3" height="10" fill="#00ff00"/>
<rect x="836" y="640" width="3" height="3" fill="#00ff00"/>
<rect x="852" y="643" width="3" height="3" fill="#00ff00"/>
<rect x="868" y="643" width="3" height="8" fill="#00ff00"/>
<rect x="884" y="643" width="3" height="13" fill="#00ff00"/>
<rect x="900" y="643" width="3" height="11" fill="#00ff00"/>
<rect x="916" y="643" width="3" height="10" fill="#00ff00"/>
<rect x="932" y="643" width="3" height="10" fill="#00ff00"/>
<rect x="948" y="643" width="3" height="9" fill="#00ff00"/>
<rect x="964" y="643" width="3" height="7" fill="#00ff00"/>
<rect x="980" y="643" width="3" height="15" fill="#00ff00"/>
<rect x="996" y="643" width="3" height="16" fill="#00ff00"/>
<rect x="1012" y="643" width="3" height="18" fill="#00ff00"/>
<rect x="1028" y="643" width="3" height="17" fill="#00ff00"/>
<rect x="1044" y="643" width="3" height="18" fill="#00ff00"/>
<rect x="1060" y="643" width="3" height="20" fill="#00ff00"/>
<rect x="1076" y="643" width="3" height="16" fill="#00ff00"/>
<rect x="1092" y="643" width="3" height="16" fill="#00ff00"/>
<rect x="1108" y="643" width="3" height="16" fill="#00ff00"/>
<rect x="1124" y="643" width="3" height="13" fill="#00ff00"/>
<rect x="1140" y="643" width="3" height="11" fill="#00ff00"/>
<rect x="1156" y="643" width="3" height="8" fill="#00ff00"/>
<rect x="1172" y="643" width="3" height="1" fill="#00ff00"/>
<rect x="1188" y="630" width="3" height="13" fill="#00ff00"/>
<rect x="1204" y="620" width="3" height="23" fill="#00ff00"/>
<rect x="1220" y="612" width="3" height="31" fill="#00ff00"/>
<rect x="1236" y="607" width="3" height="36" fill="#00ff00"/>
<rect x="1252" y="603" width="3" height="40" fill="#00ff00"/>
<rect x="1268" y="601" width="3" height="42" fill="#00ff00"/>
<rect x="1284" y="605" width="3" height="38" fill="#00ff00"/>
<rect x="1300" y="608" width="3" height="35" fill="#00ff00"/>
<rect x="1316" y="611" width="3" height="32" fill="#00ff00"/>
<rect x="1332" y="615" width="3" height="28" fill="#00ff00"/>
<rect x="1348" y="614" width="3" height="29" fill="#00ff00"/>
<rect x="1364" y="614" width="3" height="29" fill="#00ff00"/>
<rect x="1380" y="618" width="3" height="25" fill="#00ff00"/>
<rect x="1396" y="618" width="3" height="25" fill="#00ff00"/>
<rect x="1412" y="619" width="3" height="24" fill="#00ff00"/>
</g>
<polyline points="5,679.7 21,677.1 37,676.1 53,676.1 69,677.1 85,677.1 101,678.3000000000001 117,678.3000000000001 133,681.1 149,682.1 165,682.8000000000001 181,684.5 197,686.0 213,687.5 229,688.5 245,690.5 261,694.0 277,695.2 293,696.0 309,696.0 325,696.0 341,696.0 357,695.0 373,694.0 389,692.0 405,689.8000000000001 421,688.0 437,687.0 453,686.7 469,686.5 485,686.0 501,685.5 517,684.5 533,682.3000000000001 549,680.6 565,679.6 581,678.6 597,677.3000000000001 613,676.9000000000001 629,677.3000000000001 645,678.6 661,679.6 677,680.3000000000001 693,680.6 709,680.6 725,678.1 741,674.1 757,668.2 773,661.2 789,655.0 805,648.7 821,642.6 837,638.1 853,636.4000000000001 869,636.4000000000001 885,637.6 901,639.4000000000001 917,642.6 933,645.1 949,648.3000000000001 965,650.0 981,652.5 997,653.8000000000001 1013,654.5 1029,655.0 1045,655.0 1061,657.0 1077,657.7 1093,658.7 1109,659.0 1125,658.7 1141,658.0 1157,657.5 1173,655.8000000000001 1189,653.0 1205,647.6 1221,643.1 1237,636.4000000000001 1253,630.5 1269,624.2 1285,619.8000000000001 1301,615.4000000000001 1317,611.6 1333,609.3000000000001 1349,608.7 1365,608.7 1381,610.2 1397,612.2 1413,614.0" fill="none" stroke="#ff0000" stroke-width="2" shape-rendering="crispEdges"/>
</g>
<text x="9" y="608" font-size="9.8" fill="#000" stroke="#000" stroke-width="0.2" textLength="148" lengthAdjust="spacingAndGlyphs">MACD(12,26,9) 0.001016 0.001254</text>
<rect x="1645" y="597" width="1" height="1" fill="#000"/>
<rect x="1645" y="643" width="2" height="1" fill="#000"/>
<rect x="1645" y="705" width="2" height="1" fill="#000"/>
<text x="1648" y="605.8" font-size="9.8" fill="#000" stroke="#000" stroke-width="0.2" textLength="38" lengthAdjust="spacingAndGlyphs">0.001986</text>
<text x="1648" y="646.9" font-size="9.8" fill="#000" stroke="#000" stroke-width="0.2" textLength="18.1" lengthAdjust="spacingAndGlyphs">0.00</text>
<text x="1647" y="702.8" font-size="9.8" fill="#000" stroke="#000" stroke-width="0.2" textLength="38" lengthAdjust="spacingAndGlyphs">-0.00266</text>
<line x1="6" y1="731.5" x2="1644" y2="731.5" stroke="#000" stroke-width="1" stroke-dasharray="3,3" shape-rendering="crispEdges"/>
<line x1="6" y1="763.5" x2="1644" y2="763.5" stroke="#000" stroke-width="1" stroke-dasharray="3,3" shape-rendering="crispEdges"/>
<line x1="6" y1="801.5" x2="1644" y2="801.5" stroke="#000" stroke-width="1" stroke-dasharray="3,3" shape-rendering="crispEdges"/>
<clipPath id="rsc"><rect x="5" y="709" width="1639" height="109"/></clipPath>
<polyline clip-path="url(#rsc)" points="5,772.5 21,780.7 37,781.2 53,781.4 69,781.2 85,775.7 101,773.7 117,773.7 133,782.7 149,783.9 165,781.4 181,785.6 197,788.6 213,783.9 229,785.1 245,785.9 261,784.9 277,776 293,775.7 309,770 325,780.7 341,774.5 357,775.7 373,773 389,773 405,777.7 421,777 437,777 453,778.2 469,778.2 485,783.1 501,761.6 517,767.5 533,765.3 549,764.5 565,774.5 581,778.9 597,778.2 613,781.9 629,771.2 645,769.5 661,771.2 677,775 693,764.5 709,755.1 725,752.9 741,752.9 757,752.9 773,754.1 789,754.6 805,765.4 821,767 837,770.5 853,770 869,772 885,772 901,763.5 917,765 933,765 949,764.5 965,763.8 981,775 997,770 1013,770 1029,767.8 1045,769 1061,771 1077,761.6 1093,765.5 1109,767.5 1125,763.3 1141,763 1157,761.6 1173,755.1 1189,745.2 1205,744.9 1221,745.1 1237,745.9 1253,746.8 1269,747.4 1285,758.7 1301,759 1317,757.9 1333,761.9 1349,753.8 1365,754.7 1381,761.9 1397,758.2 1413,757.9" fill="none" stroke="#1e90ff" stroke-width="2" stroke-linejoin="round" shape-rendering="crispEdges"/>
<text x="9" y="721" font-size="9.8" fill="#000" stroke="#000" stroke-width="0.2" textLength="68" lengthAdjust="spacingAndGlyphs">RSI(14) 54.8659</text>
<text x="1647" y="719.0" font-size="9.8" fill="#000" stroke="#000" stroke-width="0.2" textLength="15.52" lengthAdjust="spacingAndGlyphs">100</text>
<text x="1647" y="735.0" font-size="9.8" fill="#000" stroke="#000" stroke-width="0.2" textLength="10.34" lengthAdjust="spacingAndGlyphs">80</text>
<text x="1647" y="767.0" font-size="9.8" fill="#000" stroke="#000" stroke-width="0.2" textLength="10.34" lengthAdjust="spacingAndGlyphs">50</text>
<text x="1647" y="805.1" font-size="9.8" fill="#000" stroke="#000" stroke-width="0.2" textLength="10.34" lengthAdjust="spacingAndGlyphs">15</text>
<text x="1647" y="815.2" font-size="9.8" fill="#000" stroke="#000" stroke-width="0.2" textLength="5.17" lengthAdjust="spacingAndGlyphs">0</text>
<rect x="5" y="819" width="1" height="3" fill="#000"/>
<text x="4.4" y="831" font-size="9.8" fill="#000" stroke="#000" stroke-width="0.2" textLength="53.77" lengthAdjust="spacingAndGlyphs">23 May 2023</text>
<rect x="69" y="819" width="1" height="3" fill="#000"/>
<text x="68.4" y="831" font-size="9.8" fill="#000" stroke="#000" stroke-width="0.2" textLength="56.35" lengthAdjust="spacingAndGlyphs">23 May 20:00</text>
<rect x="133" y="819" width="1" height="3" fill="#000"/>
<text x="132.4" y="831" font-size="9.8" fill="#000" stroke="#000" stroke-width="0.2" textLength="56.35" lengthAdjust="spacingAndGlyphs">24 May 12:00</text>
<rect x="197" y="819" width="1" height="3" fill="#000"/>
<text x="196.4" y="831" font-size="9.8" fill="#000" stroke="#000" stroke-width="0.2" textLength="56.35" lengthAdjust="spacingAndGlyphs">25 May 04:00</text>
<rect x="261" y="819" width="1" height="3" fill="#000"/>
<text x="260.4" y="831" font-size="9.8" fill="#000" stroke="#000" stroke-width="0.2" textLength="56.35" lengthAdjust="spacingAndGlyphs">25 May 20:00</text>
<rect x="325" y="819" width="1" height="3" fill="#000"/>
<text x="324.4" y="831" font-size="9.8" fill="#000" stroke="#000" stroke-width="0.2" textLength="56.35" lengthAdjust="spacingAndGlyphs">26 May 12:00</text>
<rect x="389" y="819" width="1" height="3" fill="#000"/>
<text x="388.4" y="831" font-size="9.8" fill="#000" stroke="#000" stroke-width="0.2" textLength="56.35" lengthAdjust="spacingAndGlyphs">29 May 04:00</text>
<rect x="453" y="819" width="1" height="3" fill="#000"/>
<text x="452.4" y="831" font-size="9.8" fill="#000" stroke="#000" stroke-width="0.2" textLength="56.35" lengthAdjust="spacingAndGlyphs">29 May 20:00</text>
<rect x="517" y="819" width="1" height="3" fill="#000"/>
<text x="516.4" y="831" font-size="9.8" fill="#000" stroke="#000" stroke-width="0.2" textLength="56.35" lengthAdjust="spacingAndGlyphs">30 May 12:00</text>
<rect x="581" y="819" width="1" height="3" fill="#000"/>
<text x="580.4" y="831" font-size="9.8" fill="#000" stroke="#000" stroke-width="0.2" textLength="56.35" lengthAdjust="spacingAndGlyphs">31 May 04:00</text>
<rect x="645" y="819" width="1" height="3" fill="#000"/>
<text x="644.4" y="831" font-size="9.8" fill="#000" stroke="#000" stroke-width="0.2" textLength="56.35" lengthAdjust="spacingAndGlyphs">31 May 20:00</text>
<rect x="709" y="819" width="1" height="3" fill="#000"/>
<text x="708.4" y="831" font-size="9.8" fill="#000" stroke="#000" stroke-width="0.2" textLength="48.61" lengthAdjust="spacingAndGlyphs">1 Jun 12:00</text>
<rect x="773" y="819" width="1" height="3" fill="#000"/>
<text x="772.4" y="831" font-size="9.8" fill="#000" stroke="#000" stroke-width="0.2" textLength="48.61" lengthAdjust="spacingAndGlyphs">2 Jun 04:00</text>
<rect x="837" y="819" width="1" height="3" fill="#000"/>
<text x="836.4" y="831" font-size="9.8" fill="#000" stroke="#000" stroke-width="0.2" textLength="48.61" lengthAdjust="spacingAndGlyphs">4 Jun 23:00</text>
<rect x="901" y="819" width="1" height="3" fill="#000"/>
<text x="900.4" y="831" font-size="9.8" fill="#000" stroke="#000" stroke-width="0.2" textLength="48.61" lengthAdjust="spacingAndGlyphs">5 Jun 12:00</text>
<rect x="965" y="819" width="1" height="3" fill="#000"/>
<text x="964.4" y="831" font-size="9.8" fill="#000" stroke="#000" stroke-width="0.2" textLength="48.61" lengthAdjust="spacingAndGlyphs">6 Jun 04:00</text>
<rect x="1029" y="819" width="1" height="3" fill="#000"/>
<text x="1028.4" y="831" font-size="9.8" fill="#000" stroke="#000" stroke-width="0.2" textLength="48.61" lengthAdjust="spacingAndGlyphs">6 Jun 20:00</text>
<rect x="1093" y="819" width="1" height="3" fill="#000"/>
<text x="1092.4" y="831" font-size="9.8" fill="#000" stroke="#000" stroke-width="0.2" textLength="48.61" lengthAdjust="spacingAndGlyphs">7 Jun 12:00</text>
<rect x="1157" y="819" width="1" height="3" fill="#000"/>
<text x="1156.4" y="831" font-size="9.8" fill="#000" stroke="#000" stroke-width="0.2" textLength="48.61" lengthAdjust="spacingAndGlyphs">8 Jun 04:00</text>
<rect x="1221" y="819" width="1" height="3" fill="#000"/>
<text x="1220.4" y="831" font-size="9.8" fill="#000" stroke="#000" stroke-width="0.2" textLength="48.61" lengthAdjust="spacingAndGlyphs">8 Jun 20:00</text>
<rect x="1285" y="819" width="1" height="3" fill="#000"/>
<text x="1284.4" y="831" font-size="9.8" fill="#000" stroke="#000" stroke-width="0.2" textLength="48.61" lengthAdjust="spacingAndGlyphs">9 Jun 12:00</text>
<rect x="1349" y="819" width="1" height="3" fill="#000"/>
<text x="1348.4" y="831" font-size="9.8" fill="#000" stroke="#000" stroke-width="0.2" textLength="53.78" lengthAdjust="spacingAndGlyphs">12 Jun 04:00</text>
<rect x="1413" y="819" width="1" height="3" fill="#000"/>
<text x="1412.4" y="831" font-size="9.8" fill="#000" stroke="#000" stroke-width="0.2" textLength="53.78" lengthAdjust="spacingAndGlyphs">12 Jun 20:00</text>
</svg>
</body></html>
